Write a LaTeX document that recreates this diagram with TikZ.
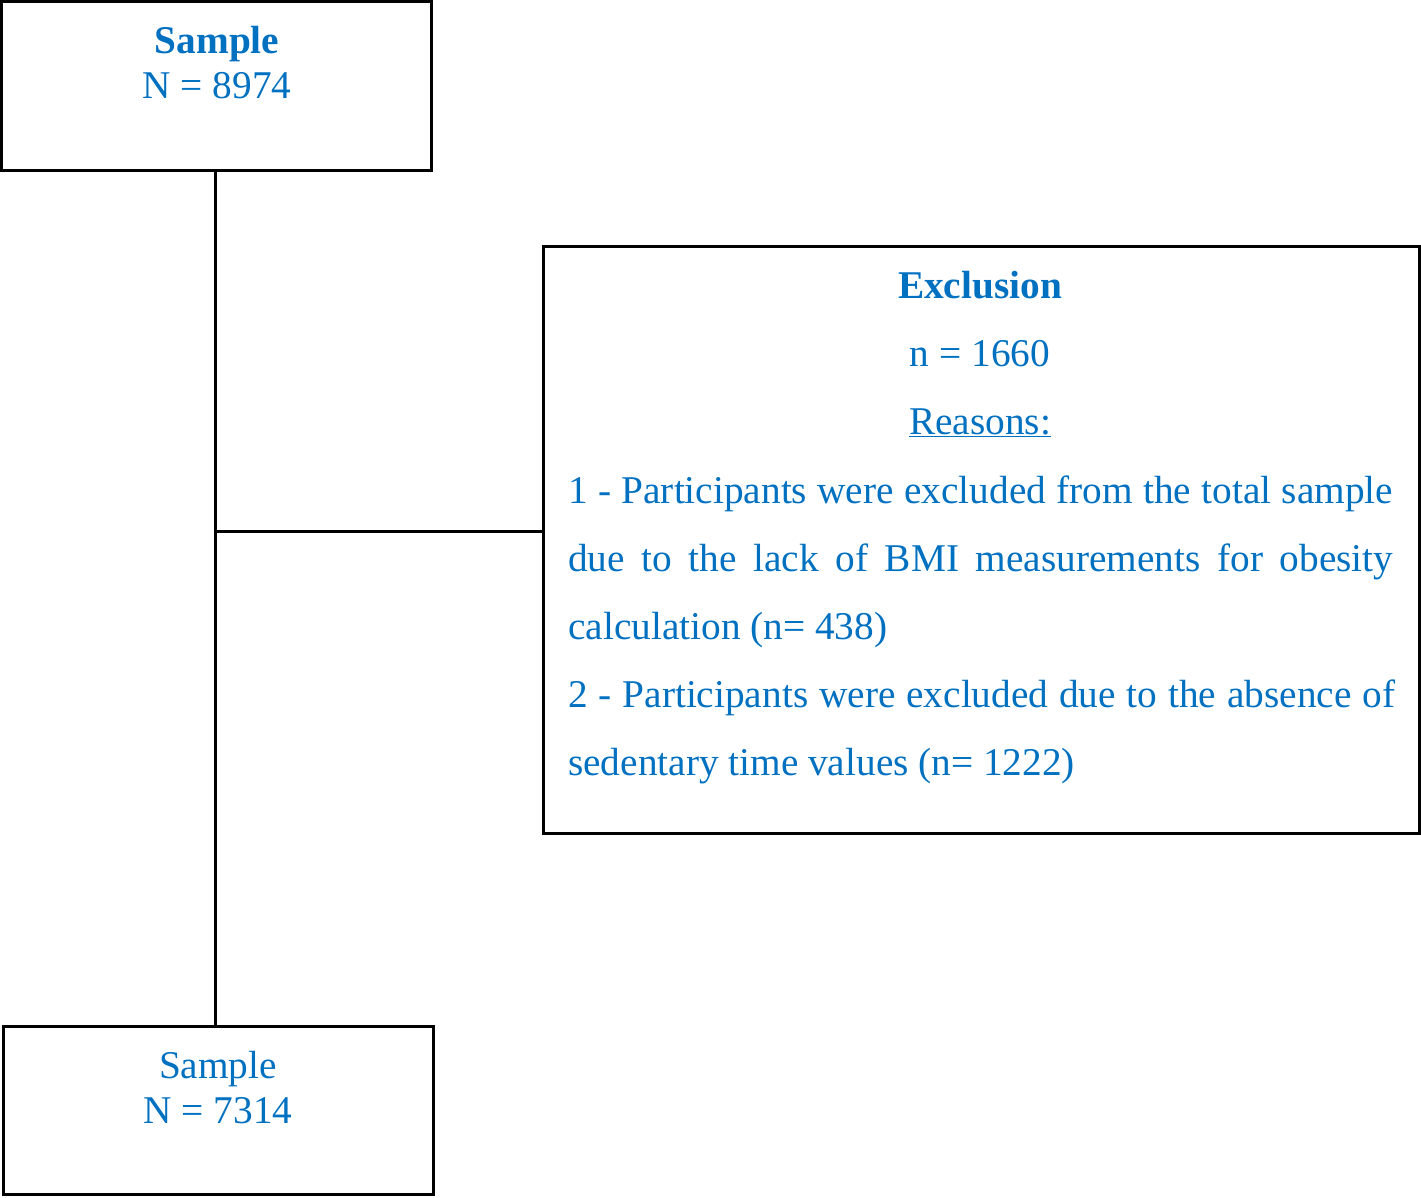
\documentclass[tikz,border=0pt]{standalone}
\usepackage{fontspec}
\setmainfont{Liberation Serif}
\definecolor{txtblue}{HTML}{0070C0}
\begin{document}
\begin{tikzpicture}[x=1pt,y=-1pt,
  box/.style={draw=black,line width=3pt,fill=none,outer sep=0pt},
  txt/.style={inner sep=0pt,text=txtblue,font=\fontsize{39.3}{45}\selectfont},
  conn/.style={draw=black,line width=3pt}]
\useasboundingbox (0,0) rectangle (1421,1197);
% boxes
\node[box,minimum width=430pt,minimum height=168.5pt,anchor=north west] (top) at (1.5,1.5) {};
\node[box,minimum width=875.5pt,minimum height=586.5pt,anchor=north west] (excl) at (543.5,246.5) {};
\node[box,minimum width=430pt,minimum height=168pt,anchor=north west] (bot) at (3,1026) {};
% texts top
\node[txt,anchor=base] (t1) at (217,53) {\bfseries Sample};
\node[txt,anchor=base] (t2) at (217,98) {N = 8974};
% texts bottom
\node[txt,anchor=base] (b1) at (218,1078) {Sample};
\node[txt,anchor=base] (b2) at (218,1123) {N = 7314};
% exclusion texts
\node[txt,anchor=base] (e1) at (980,298) {\bfseries Exclusion};
\node[txt,anchor=base] (e2) at (980,366) {n = 1660};
\node[txt,anchor=base] (e3) at (980,434) {\underline{Reasons:}};
\node[txt,anchor=base west] (l1) at (568,503) {\makebox[825pt][s]{1 - Participants were excluded from the total sample}};
\node[txt,anchor=base west] (l2) at (568,571) {\makebox[825pt][s]{due to the lack of BMI measurements for obesity}};
\node[txt,anchor=base west] (l3) at (568,639) {calculation (n= 438)};
\node[txt,anchor=base west] (l4) at (568,707) {\makebox[827pt][s]{2 - Participants were excluded due to the absence of}};
\node[txt,anchor=base west] (l5) at (568,775) {sedentary time values (n= 1222)};
% connectors
\coordinate (j) at (215,531);
\draw[conn] (top.south -| j) -- (bot.north -| j);
\draw[conn] (j) -- (j -| excl.west);
\end{tikzpicture}
\end{document}
